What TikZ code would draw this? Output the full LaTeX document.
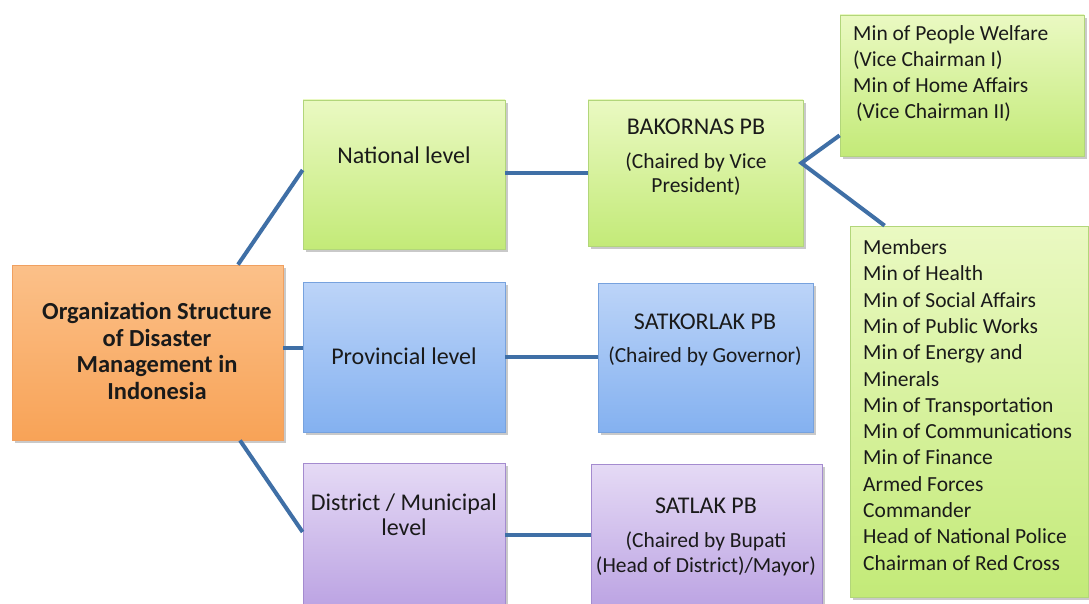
\documentclass[tikz,border=0pt]{standalone}
\usepackage{fontspec}
\setmainfont{Carlito}
\usetikzlibrary{shadows,calc}

\definecolor{linkblue}{HTML}{3F6FA6}
\definecolor{inktext}{HTML}{1A1A1A}
\definecolor{orgtop}{HTML}{FBC089}
\definecolor{orgbot}{HTML}{F8A357}
\definecolor{orgline}{HTML}{F0A060}
\definecolor{grntop}{HTML}{EAF9C2}
\definecolor{grnbot}{HTML}{C3EA78}
\definecolor{grnline}{HTML}{B2D67A}
\definecolor{blutop}{HTML}{BCD4F8}
\definecolor{blubot}{HTML}{84B1F0}
\definecolor{bluline}{HTML}{77A2DE}
\definecolor{prptop}{HTML}{E5DAF5}
\definecolor{prpbot}{HTML}{BAA1E2}
\definecolor{prpline}{HTML}{A48BCF}

\tikzset{
  panel/.style={draw, line width=0.8pt, inner sep=0pt,
    drop shadow={shadow xshift=2.5pt, shadow yshift=-3pt, opacity=0.35, fill=black!60}},
  orangebox/.style={panel, draw=orgline, top color=orgtop, bottom color=orgbot},
  greenbox/.style={panel, draw=grnline, top color=grntop, bottom color=grnbot},
  bluebox/.style={panel, draw=bluline, top color=blutop, bottom color=blubot},
  purplebox/.style={panel, draw=prpline, top color=prptop, bottom color=prpbot},
  label/.style={text=inktext, inner sep=0pt, align=center},
  listlabel/.style={text=inktext, inner sep=0pt, align=left, anchor=west},
  link/.style={draw=linkblue, line width=4pt},
}

\begin{document}
\begin{tikzpicture}[x=1pt, y=-1pt]
  \useasboundingbox (0,0) rectangle (1089,604);
  \clip (0,0) rectangle (1089,604);
  \fill[white] (0,0) rectangle (1089,604);

  % boxes
  \node[orangebox, minimum width=271pt, minimum height=175pt] (root) at (147.5,352.5) {};
  \node[greenbox,  minimum width=202pt, minimum height=149pt] (nat)  at (404,174.5) {};
  \node[bluebox,   minimum width=202pt, minimum height=150pt] (prov) at (404,357) {};
  \node[purplebox, minimum width=202pt, minimum height=150pt] (dist) at (404,538) {};
  \node[greenbox,  minimum width=215pt, minimum height=146pt] (bak)  at (695.5,173) {};
  \node[bluebox,   minimum width=215pt, minimum height=149pt] (satk) at (705.5,357.5) {};
  \node[purplebox, minimum width=231pt, minimum height=150pt] (satl) at (706.5,539) {};
  \node[greenbox,  minimum width=244pt, minimum height=141pt] (up)   at (962,85.5) {};
  \node[greenbox,  minimum width=238pt, minimum height=371pt] (mem)  at (969,411.5) {};

  % connectors
  \draw[link] ($(root.north)+(90.5,0)$) -- ($(nat.west)+(0,-4.5)$);
  \draw[link] ($(root.east)+(0,-4.5)$) -- ($(prov.west)+(0,-9)$);
  \draw[link] ($(root.south)+(92.5,0)$) -- ($(dist.west)+(0,-6)$);
  \draw[link] ($(nat.east)+(0,-1.5)$) -- (bak.west);
  \draw[link] (prov.east) -- ($(satk.west)+(0,-0.5)$);
  \draw[link] ($(dist.east)+(0,-3)$) -- ($(satl.west)+(0,-4)$);
  \coordinate (fork) at ($(bak.east)+(-2,-10)$);
  \draw[link, line join=miter] ($(up.south west)+(0,-21)$) -- (fork) -- ($(mem.north west)+(35,0)$);

  % texts
  \node[label, font=\fontsize{24.5}{26.7}\selectfont\bfseries] (roottxt) at (157,351)
    {Organization Structure\\of Disaster\\Management in\\Indonesia};
  \node[label, font=\fontsize{24}{25}\selectfont] (nattxt) at (404,155) {National level};
  \node[label, font=\fontsize{24}{25}\selectfont] (provtxt) at (404,356) {Provincial level};
  \node[label, font=\fontsize{24}{25}\selectfont] (disttxt) at (404,514.5) {District / Municipal\\level};

  \node[label, font=\fontsize{24}{25}\selectfont] (baktitle) at (696,127) {BAKORNAS PB};
  \node[label, font=\fontsize{21.5}{24}\selectfont] (baksub) at (696,174) {(Chaired by Vice\\President)};
  \node[label, font=\fontsize{24}{25}\selectfont] (satktitle) at (705,322) {SATKORLAK PB};
  \node[label, font=\fontsize{21.5}{24}\selectfont] (satksub) at (705,356) {(Chaired by Governor)};
  \node[label, font=\fontsize{24}{25}\selectfont] (satltitle) at (706,506) {SATLAK PB};
  \node[label, font=\fontsize{21.5}{25}\selectfont] (satlsub) at (706,553.5) {(Chaired by Bupati\\(Head of District)/Mayor)};

  \node[listlabel, font=\fontsize{21.5}{25.7}\selectfont] (uptxt) at (853,73.5)
    {Min of People Welfare\\(Vice Chairman I)\\Min of Home Affairs\\\hspace*{3pt}(Vice Chairman II)};
  \node[listlabel, font=\fontsize{21.5}{26.3}\selectfont] (memtxt) at (863,405)
    {Members\\Min of Health\\Min of Social Affairs\\Min of Public Works\\Min of Energy and\\Minerals\\Min of Transportation\\Min of Communications\\Min of Finance\\Armed Forces\\Commander\\Head of National Police\\Chairman of Red Cross};
\end{tikzpicture}
\end{document}
